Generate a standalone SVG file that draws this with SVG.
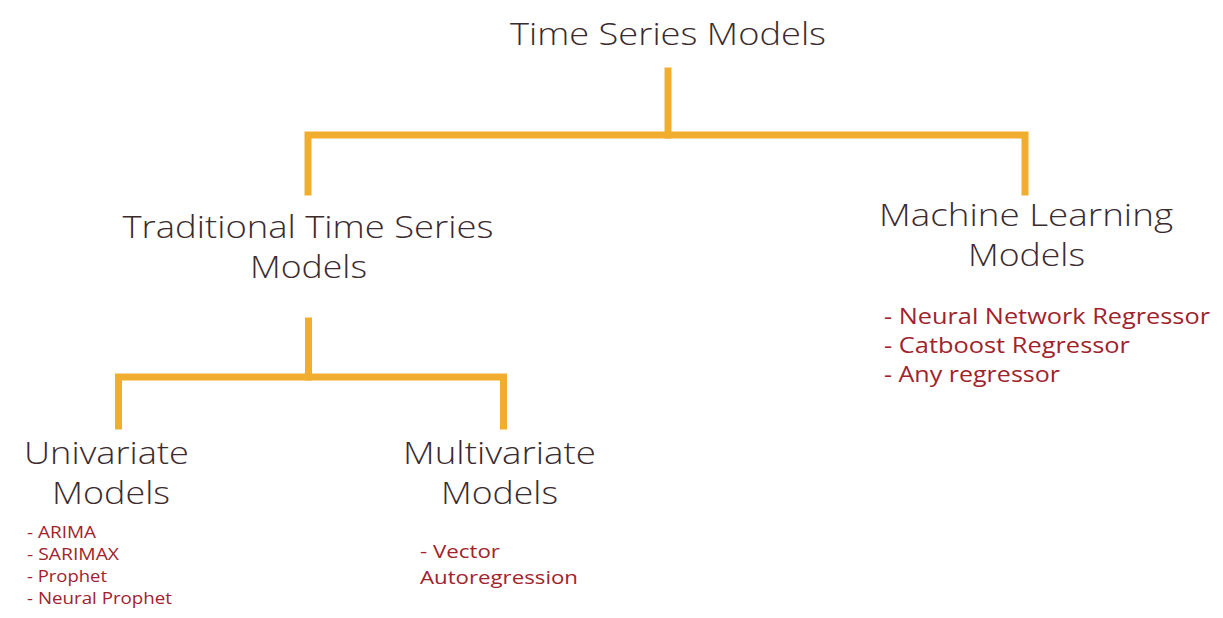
<svg xmlns="http://www.w3.org/2000/svg" width="1223" height="618" viewBox="0 0 1223 618">
<style>
.h{font-family:"Open Sans","Liberation Sans",sans-serif;font-size:32px;font-weight:300;fill:#3a2b2f;text-anchor:middle;}
.l{font-family:"Open Sans","Liberation Sans",sans-serif;font-weight:400;fill:#a0232c;}
.c{fill:none;stroke:#f0ad2e;stroke-width:7;stroke-linecap:square;stroke-linejoin:miter;}
</style>
<rect width="1223" height="618" fill="#ffffff"/>
<g id="connectors">
<path class="c" d="M668 71 V135"/>
<path class="c" d="M308 192 V135 H1025 V192"/>
<path class="c" d="M308.5 321 V377"/>
<path class="c" d="M118.5 426 V377 H503.5 V426"/>
</g>
<g id="root"><text class="h" x="668" y="45" textLength="316" lengthAdjust="spacingAndGlyphs">Time Series Models</text></g>
<g id="traditional"><text class="h" x="308" y="238" textLength="371" lengthAdjust="spacingAndGlyphs">Traditional Time Series</text><text class="h" x="308.5" y="278" textLength="117" lengthAdjust="spacingAndGlyphs">Models</text></g>
<g id="ml"><text class="h" x="1026" y="226" textLength="294" lengthAdjust="spacingAndGlyphs">Machine Learning</text><text class="h" x="1026.5" y="266" textLength="117" lengthAdjust="spacingAndGlyphs">Models</text>
<g class="l" font-size="22"><text x="884" y="324" textLength="326" lengthAdjust="spacingAndGlyphs">- Neural Network Regressor</text><text x="884" y="353" textLength="246" lengthAdjust="spacingAndGlyphs">- Catboost Regressor</text><text x="884" y="382" textLength="176" lengthAdjust="spacingAndGlyphs">- Any regressor</text></g></g>
<g id="univariate"><text class="h" x="106.5" y="464" textLength="165" lengthAdjust="spacingAndGlyphs">Univariate</text><text class="h" x="111" y="504" textLength="118" lengthAdjust="spacingAndGlyphs">Models</text>
<g class="l" font-size="16.5"><text x="27" y="538" textLength="69" lengthAdjust="spacingAndGlyphs">- ARIMA</text><text x="27" y="560" textLength="92" lengthAdjust="spacingAndGlyphs">- SARIMAX</text><text x="27" y="582" textLength="80" lengthAdjust="spacingAndGlyphs">- Prophet</text><text x="27" y="604" textLength="145" lengthAdjust="spacingAndGlyphs">- Neural Prophet</text></g></g>
<g id="multivariate"><text class="h" x="499.5" y="464" textLength="193" lengthAdjust="spacingAndGlyphs">Multivariate</text><text class="h" x="499.5" y="504" textLength="117" lengthAdjust="spacingAndGlyphs">Models</text>
<g class="l" font-size="19"><text x="420" y="558" textLength="80" lengthAdjust="spacingAndGlyphs">- Vector</text><text x="420" y="584" textLength="158" lengthAdjust="spacingAndGlyphs">Autoregression</text></g></g>
</svg>
